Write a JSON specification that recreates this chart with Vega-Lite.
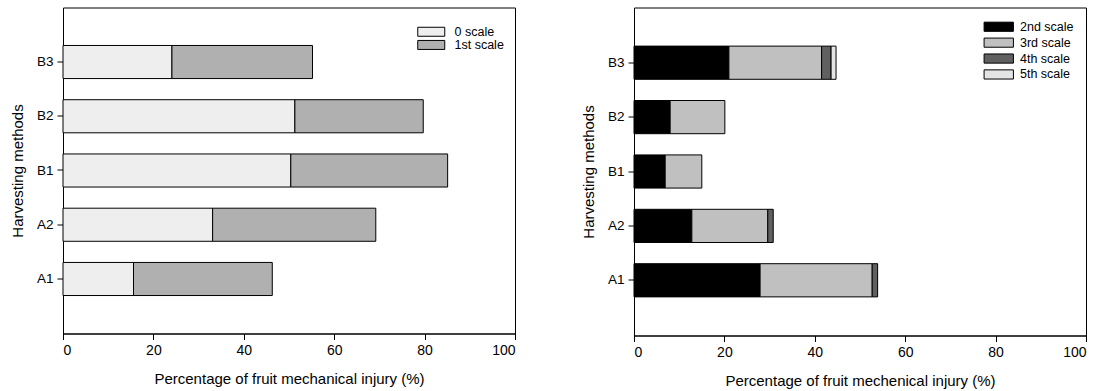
{
  "$schema": "https://vega.github.io/schema/vega-lite/v6.json",
  "padding": {"left": 9, "top": 6.5, "right": 3, "bottom": 3},
  "spacing": 119,
  "bounds": "flush",
  "resolve": {"scale": {"color": "independent"}, "legend": {"color": "independent"}},
  "config": {
    "font": "Liberation Sans",
    "view": {"stroke": "#000", "strokeWidth": 1},
    "axis": {
      "domainColor": "#000", "tickColor": "#000", "labelColor": "#000", "titleColor": "#000",
      "grid": false, "labelFont": "Liberation Sans", "titleFont": "Liberation Sans",
      "labelFontSize": 14, "titleFontSize": 15, "titleFontWeight": "normal", "tickSize": 6
    },
    "legend": {"labelFont": "Liberation Sans", "labelColor": "#000", "padding": 0}
  },
  "hconcat": [
    {
      "width": 452,
      "height": 326,
      "data": {"values": [
        {"m": "B3", "s": "0 scale", "v": 24.1}, {"m": "B3", "s": "1st scale", "v": 31.1},
        {"m": "B2", "s": "0 scale", "v": 51.3}, {"m": "B2", "s": "1st scale", "v": 28.4},
        {"m": "B1", "s": "0 scale", "v": 50.4}, {"m": "B1", "s": "1st scale", "v": 34.7},
        {"m": "A2", "s": "0 scale", "v": 33.1}, {"m": "A2", "s": "1st scale", "v": 36.1},
        {"m": "A1", "s": "0 scale", "v": 15.6}, {"m": "A1", "s": "1st scale", "v": 30.7}
      ]},
      "mark": {"type": "bar", "stroke": "#000", "strokeWidth": 1},
      "encoding": {
        "y": {
          "field": "m", "type": "nominal", "sort": ["B3", "B2", "B1", "A2", "A1"],
          "scale": {"paddingInner": 0.39, "paddingOuter": 0.7},
          "axis": {"title": "Harvesting methods", "labelPadding": 4, "labelFontSize": 13.5, "titleX": -46, "titleBaseline": "middle"}
        },
        "x": {
          "field": "v", "type": "quantitative", "stack": "zero",
          "scale": {"domain": [0, 100], "nice": false},
          "axis": {"values": [0, 20, 40, 60, 80, 100], "title": "Percentage of fruit mechanical injury (%)", "labelPadding": 4, "titleY": 50, "titleBaseline": "alphabetic"}
        },
        "color": {
          "field": "s", "type": "nominal",
          "scale": {"domain": ["0 scale", "1st scale"], "range": ["#eeeeee", "#b0b0b0"]},
          "legend": {
            "title": null, "orient": "none", "legendX": 362, "legendY": 18,
            "symbolType": "M-3,-1H3V1H-3Z", "symbolSize": 81,
            "symbolStrokeColor": "#000", "symbolStrokeWidth": 1, "symbolOpacity": 1,
            "labelOffset": 17, "labelFontSize": 12.5, "rowPadding": -0.8
          }
        }
      }
    },
    {
      "width": 452,
      "height": 328,
      "data": {"values": [
        {"m": "B3", "s": "2nd scale", "v": 21.0}, {"m": "B3", "s": "3rd scale", "v": 20.5},
        {"m": "B3", "s": "4th scale", "v": 2.1}, {"m": "B3", "s": "5th scale", "v": 1.1},
        {"m": "B2", "s": "2nd scale", "v": 8.0}, {"m": "B2", "s": "3rd scale", "v": 12.1},
        {"m": "B1", "s": "2nd scale", "v": 6.9}, {"m": "B1", "s": "3rd scale", "v": 8.1},
        {"m": "A2", "s": "2nd scale", "v": 12.8}, {"m": "A2", "s": "3rd scale", "v": 16.8},
        {"m": "A2", "s": "4th scale", "v": 1.2},
        {"m": "A1", "s": "2nd scale", "v": 27.9}, {"m": "A1", "s": "3rd scale", "v": 24.8},
        {"m": "A1", "s": "4th scale", "v": 1.2}
      ]},
      "mark": {"type": "bar", "stroke": "#000", "strokeWidth": 1},
      "encoding": {
        "y": {
          "field": "m", "type": "nominal", "sort": ["B3", "B2", "B1", "A2", "A1"],
          "scale": {"paddingInner": 0.39, "paddingOuter": 0.71},
          "axis": {"title": "Harvesting methods", "labelPadding": 4, "labelFontSize": 13.5, "titleX": -46, "titleBaseline": "middle"}
        },
        "x": {
          "field": "v", "type": "quantitative", "stack": "zero",
          "scale": {"domain": [0, 100], "nice": false},
          "axis": {"values": [0, 20, 40, 60, 80, 100], "title": "Percentage of fruit mechenical injury (%)", "labelPadding": 4, "titleY": 50, "titleBaseline": "alphabetic"}
        },
        "color": {
          "field": "s", "type": "nominal",
          "scale": {"domain": ["2nd scale", "3rd scale", "4th scale", "5th scale"], "range": ["#000000", "#c0c0c0", "#606060", "#e4e4e4"]},
          "legend": {
            "title": null, "orient": "none", "legendX": 358.5, "legendY": 13,
            "symbolType": "M-3.2,-1H3.2V1H-3.2Z", "symbolSize": 84,
            "symbolStrokeColor": "#000", "symbolStrokeWidth": 1, "symbolOpacity": 1,
            "labelOffset": 15, "labelFontSize": 12.5, "rowPadding": 1.9
          }
        }
      }
    }
  ]
}
